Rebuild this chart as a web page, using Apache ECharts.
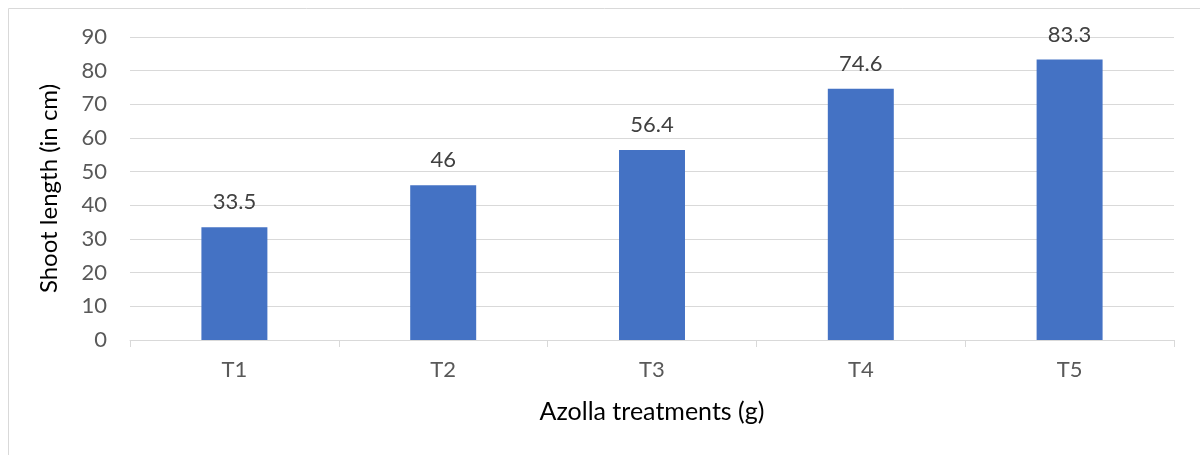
<!DOCTYPE html>
<html><head><meta charset="utf-8">
<script src="https://cdn.jsdelivr.net/npm/echarts@6/dist/echarts.min.js"></script>
<style>html,body{margin:0;padding:0;background:#fff}#c{width:1200px;height:455px}</style>
</head><body><div id="c"></div>
<script>
const categories = ['T1','T2','T3','T4','T5'];
const values = [33.5, 46, 56.4, 74.6, 83.3];
const xTitle = 'Azolla treatments (g)';
const yTitle = 'Shoot length (in cm)';
const FONT = 'Lato';
const chart = echarts.init(document.getElementById('c'));
chart.setOption({
  animation: false,
  textStyle: {fontFamily: FONT},
  graphic: [{type:'rect', shape:{x:8.5,y:8.5,width:1200,height:460}, style:{fill:'none', stroke:'#d9d9d9', lineWidth:1}, silent:true}],
  grid: {left:130, right:26, top:37, bottom:115},
  xAxis: {
    type:'category', data: categories,
    axisLine:{lineStyle:{color:'#d9d9d9', width:1}},
    axisTick:{show:true, length:7, lineStyle:{color:'#d9d9d9'}},
    axisLabel:{color:'#595959', fontSize:22, fontFamily:FONT, margin:19},
    name: xTitle, nameLocation:'middle', nameGap:59,
    nameTextStyle:{color:'#000', fontSize:25, fontFamily:FONT}
  },
  yAxis: {
    type:'value', min:0, max:90, interval:10,
    axisLine:{show:false}, axisTick:{show:false},
    axisLabel:{color:'#595959', fontSize:22, fontFamily:FONT, margin:23},
    splitLine:{lineStyle:{color:'#d9d9d9', width:1}},
    name: yTitle, nameLocation:'middle', nameGap:69, nameRotate:90,
    nameTextStyle:{color:'#000', fontSize:24, fontFamily:FONT}
  },
  series: [{
    type:'bar', data: values, barWidth:'31.6%',
    itemStyle:{color:'#4472c4'},
    label:{show:true, position:'top', distance:14, color:'#404040', fontSize:22, fontFamily:FONT}
  }]
});
</script></body></html>
